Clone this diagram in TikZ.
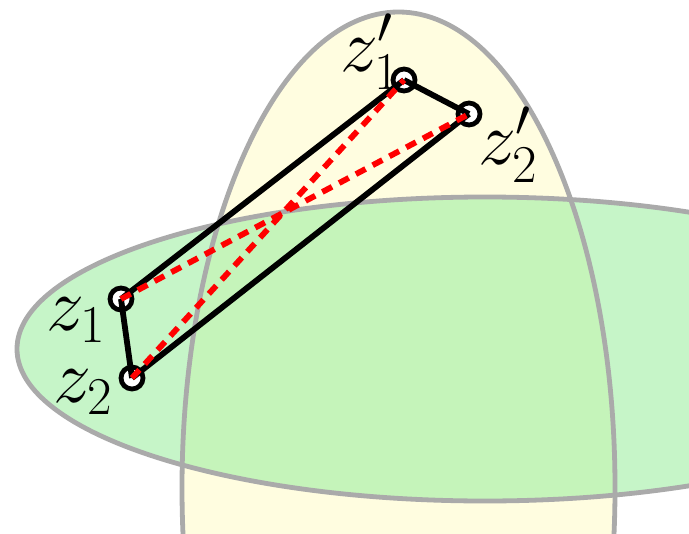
\RequirePackage{fix-cm}
\documentclass[tikz,border=0pt]{standalone}
\definecolor{lensyellow}{RGB}{255,253,224}
\definecolor{lensgreen}{RGB}{151,237,155}
\definecolor{rimgray}{RGB}{170,170,170}
\begin{document}
\begin{tikzpicture}[
        x=0.5pt, y=-0.5pt,
        rim/.style={draw=rimgray, line width=2.4pt},
        vertex/.style={
            circle,
            draw,
            fill=white,
            line width=2.4pt,
            minimum size=11pt,
            inner sep=0pt
        },
        side/.style={line width=2.9pt},
        diag/.style={red, line width=2.9pt, dash pattern=on 5.5pt off 4pt},
        lbl/.style={font=\fontsize{38}{44}\selectfont, inner sep=0pt}
    ]
        \useasboundingbox (0,0) rectangle (689,534);
        \begin{scope}
            \clip (0,0) rectangle (689,534);
            \fill[lensyellow] (398.5,488) ellipse [x radius=216.5, y radius=476];
            \fill[lensgreen, fill opacity=0.55] (485,349) ellipse [x radius=468, y radius=152];
            \draw[rim] (398.5,488) ellipse [x radius=216.5, y radius=476];
            \draw[rim] (485,349) ellipse [x radius=468, y radius=152];
        \end{scope}

        \node[vertex] (z1) at (121,299) {};
        \node[vertex] (z2) at (132,378) {};
        \node[vertex] (z1p) at (404,80) {};
        \node[vertex] (z2p) at (469,114) {};

        \node[lbl] (lz1) at (76,320) {$z_1$};
        \node[lbl] (lz2) at (83,392) {$z_2$};
        \node[lbl] (lz1p) at (370,52) {$z_1'$};
        \node[lbl] (lz2p) at (508,145) {$z_2'$};

        \draw[side] (z1.center) -- (z2.center);
        \draw[side] (z1.center) -- (z1p.center);
        \draw[side] (z1p.center) -- (z2p.center);
        \draw[side] (z2.center) -- (z2p.center);
        \draw[diag] (z1.center) -- (z2p.center);
        \draw[diag] (z2.center) -- (z1p.center);
    \end{tikzpicture}
\end{document}
